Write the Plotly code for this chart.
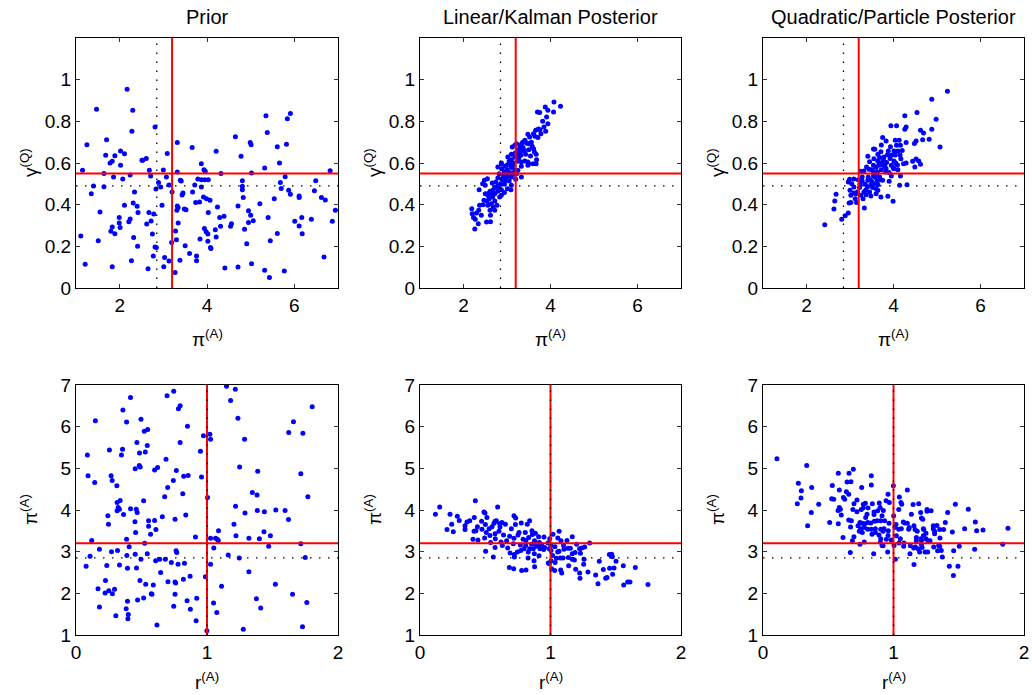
import plotly.graph_objects as go

# ---------------- data ----------------
TITLES = ["Prior", "Linear/Kalman Posterior", "Quadratic/Particle Posterior"]
PI_TRUE, GAMMA_TRUE, R_TRUE = 3.2, 0.55, 1.0
PI_PRIOR_MEAN, GAMMA_PRIOR_MEAN, R_PRIOR_MEAN = 2.85, 0.49, 1.0

TOP_X_RANGE, TOP_Y_RANGE = [1, 7], [0, 1.2]
BOT_X_RANGE, BOT_Y_RANGE = [0, 2], [1, 7]
TOP_X_TICKS = [2, 4, 6]
TOP_Y_TICKS = [0, 0.2, 0.4, 0.6, 0.8, 1.0]
TOP_Y_TICKTEXT = ["0", "0.2", "0.4", "0.6", "0.8", "1"]
BOT_X_TICKS = [0, 1, 2]
BOT_Y_TICKS = [1, 2, 3, 4, 5, 6, 7]

# (pi, gamma) prior samples
prior_pi_gamma = [
(2.17,0.954),(1.47,0.858),(2.30,0.853),(1.25,0.688),(2.28,0.752),(1.70,0.712),(2.81,0.773),(1.68,0.637),
(1.89,0.635),(2.02,0.658),(2.11,0.645),(1.78,0.600),(1.83,0.608),(2.02,0.589),(2.51,0.613),(2.53,0.613),
(2.61,0.622),(3.09,0.646),(1.15,0.565),(1.64,0.550),(1.86,0.533),(2.07,0.523),(2.24,0.542),(2.68,0.565),
(2.71,0.538),(3.00,0.566),(3.07,0.533),(2.89,0.507),(2.94,0.485),(3.13,0.494),(2.83,0.475),(1.40,0.490),
(1.64,0.486),(1.35,0.453),(2.34,0.461),(2.11,0.397),(2.31,0.408),(2.40,0.392),(2.42,0.363),(1.55,0.365),
(1.99,0.339),(2.24,0.331),(2.21,0.318),(1.99,0.312),(2.01,0.290),(1.83,0.293),(1.80,0.272),(1.89,0.261),
(2.67,0.362),(2.78,0.355),(2.97,0.397),(2.72,0.322),(2.62,0.307),(2.75,0.259),(1.11,0.250),(1.51,0.227),
(2.32,0.242),(2.41,0.200),(2.81,0.197),(2.84,0.195),(1.21,0.114),(1.83,0.102),(2.27,0.131),(2.65,0.093),
(2.77,0.154),(3.03,0.147),(3.01,0.102),(3.13,0.130),(3.19,0.218),(3.28,0.274),(3.30,0.232),(3.34,0.312),
(3.27,0.075),(3.38,0.133),(3.32,0.699),(3.32,0.557),(3.39,0.517),(3.41,0.514),(3.20,0.461),(3.45,0.456),
(3.43,0.446),(3.32,0.394),(3.34,0.387),(3.31,0.373),(3.48,0.379),(3.52,0.376),(3.66,0.675),(3.72,0.494),
(3.67,0.461),(3.74,0.411),(3.83,0.413),(3.50,0.203),(3.60,0.166),(3.76,0.154),(3.76,0.131),(3.84,0.235),
(3.79,0.523),(3.87,0.597),(3.93,0.568),(3.96,0.560),(3.87,0.520),(3.95,0.520),(4.03,0.520),(3.87,0.485),
(3.92,0.437),(3.99,0.429),(4.07,0.421),(4.03,0.363),(3.94,0.286),(3.98,0.270),(4.02,0.259),(4.02,0.224),
(4.08,0.195),(4.09,0.190),(4.21,0.656),(4.32,0.550),(4.24,0.389),(4.29,0.339),(4.39,0.344),(4.31,0.296),
(4.19,0.280),(4.21,0.245),(4.41,0.096),(4.65,0.726),(4.78,0.632),(4.71,0.394),(4.56,0.309),(4.54,0.296),
(4.86,0.282),(4.91,0.213),(4.71,0.101),(4.99,0.699),(5.01,0.688),(5.02,0.552),(4.81,0.515),(4.81,0.488),
(4.81,0.472),(4.83,0.434),(4.95,0.371),(5.00,0.349),(5.06,0.323),(4.95,0.315),(5.02,0.117),(5.21,0.405),
(5.32,0.576),(5.35,0.827),(5.38,0.747),(5.40,0.338),(5.45,0.227),(5.32,0.085),(5.43,0.050),(5.54,0.429),
(5.61,0.678),(5.66,0.600),(5.68,0.507),(5.70,0.478),(5.61,0.262),(5.77,0.082),(5.79,0.534),(5.82,0.690),
(5.84,0.813),(5.91,0.838),(5.87,0.469),(5.91,0.450),(6.01,0.320),(6.11,0.442),(6.11,0.435),(6.11,0.298),
(6.17,0.338),(6.18,0.261),(6.39,0.330),(6.46,0.467),(6.49,0.515),(6.62,0.435),(6.71,0.422),(6.68,0.149),
(6.82,0.563),(6.87,0.320),(6.94,0.373),
]

# (pi, gamma) linear/Kalman posterior samples
kalman_pi_gamma = [
(4.08,0.893),(4.23,0.872),(3.88,0.869),(3.94,0.853),(4.07,0.845),(3.70,0.845),(3.75,0.842),(3.91,0.821),
(3.82,0.800),(3.94,0.789),(3.85,0.773),(3.72,0.763),(3.76,0.760),(3.66,0.757),(3.89,0.752),(3.61,0.741),
(3.48,0.738),(3.78,0.741),(3.52,0.725),(3.71,0.722),(3.64,0.728),(3.41,0.709),(3.45,0.696),(3.33,0.690),
(3.49,0.693),(3.22,0.693),(3.18,0.685),(3.12,0.677),(3.30,0.677),(3.37,0.674),(3.61,0.669),(3.26,0.664),
(3.50,0.664),(3.35,0.658),(3.63,0.653),(3.19,0.648),(3.10,0.642),(3.43,0.642),(3.32,0.637),(3.54,0.634),
(3.67,0.642),(3.18,0.629),(3.02,0.629),(3.27,0.624),(3.10,0.616),(3.68,0.616),(3.41,0.610),(3.24,0.608),
(2.87,0.600),(3.05,0.597),(3.50,0.597),(3.60,0.597),(3.67,0.597),(3.14,0.589),(3.33,0.584),(3.48,0.589),
(2.96,0.584),(3.10,0.578),(2.88,0.573),(3.00,0.568),(3.18,0.568),(3.25,0.565),(2.94,0.557),(3.04,0.557),
(3.11,0.552),(2.82,0.549),(3.18,0.546),(2.92,0.538),(3.02,0.536),(3.10,0.533),(3.33,0.533),(2.79,0.528),
(2.88,0.525),(2.48,0.517),(2.55,0.525),(3.20,0.522),(2.96,0.514),(3.05,0.514),(2.74,0.509),(2.44,0.501),
(2.85,0.501),(2.50,0.493),(2.94,0.498),(3.10,0.493),(2.78,0.488),(2.72,0.482),(2.83,0.478),(3.01,0.477),
(2.36,0.472),(2.87,0.472),(3.09,0.472),(2.61,0.464),(2.79,0.464),(2.94,0.458),(2.50,0.453),(2.64,0.450),
(2.72,0.453),(2.56,0.445),(2.87,0.445),(2.67,0.437),(2.83,0.437),(2.59,0.429),(2.47,0.421),(2.54,0.418),
(2.72,0.418),(2.64,0.405),(2.56,0.397),(2.77,0.397),(2.37,0.397),(2.68,0.389),(2.61,0.373),(2.72,0.373),
(2.19,0.381),(2.35,0.373),(2.20,0.357),(2.41,0.349),(2.62,0.349),(2.23,0.338),(2.27,0.330),(2.53,0.317),
(2.62,0.318),(2.34,0.309),(2.26,0.283),(2.79,0.581),(2.87,0.597),(3.33,0.605),(3.48,0.605),(3.22,0.549),
(3.05,0.608),(3.22,0.637),(2.98,0.533),(2.66,0.504),(3.56,0.700),(3.40,0.660),(3.58,0.680),(2.90,0.520),
(2.68,0.470),(3.15,0.600),(3.28,0.650),(3.36,0.700),(3.00,0.590),(2.58,0.455),(2.45,0.400),(2.30,0.360),
]

# (pi, gamma) quadratic/particle posterior samples
particle_pi_gamma = [
(5.24,0.944),(4.88,0.906),(4.54,0.842),(4.98,0.810),(4.26,0.827),(3.94,0.779),(4.07,0.779),(4.29,0.773),
(4.26,0.762),(4.62,0.757),(4.69,0.744),(4.88,0.762),(3.75,0.723),(3.83,0.706),(4.04,0.709),(4.13,0.709),
(4.29,0.699),(4.52,0.706),(4.67,0.712),(4.82,0.714),(4.48,0.694),(3.72,0.686),(3.93,0.678),(4.07,0.685),
(4.16,0.685),(3.54,0.667),(3.57,0.666),(5.07,0.677),(3.71,0.654),(3.88,0.658),(4.01,0.658),(4.10,0.658),
(3.41,0.632),(3.64,0.642),(3.95,0.637),(4.04,0.638),(4.15,0.638),(3.55,0.621),(3.68,0.626),(3.78,0.629),
(3.92,0.622),(4.17,0.621),(4.52,0.619),(4.58,0.610),(3.45,0.606),(3.64,0.610),(4.01,0.610),(4.44,0.608),
(3.84,0.602),(4.29,0.600),(4.23,0.597),(3.54,0.589),(3.66,0.589),(3.75,0.592),(3.95,0.589),(4.09,0.590),
(4.49,0.581),(4.62,0.594),(3.38,0.581),(3.60,0.578),(3.99,0.578),(4.01,0.573),(3.50,0.568),(3.72,0.568),
(4.10,0.568),(3.83,0.573),(3.24,0.560),(3.32,0.562),(3.54,0.557),(3.63,0.557),(3.90,0.555),(3.60,0.546),
(3.95,0.538),(4.16,0.538),(3.09,0.523),(3.28,0.533),(3.42,0.533),(3.54,0.539),(3.68,0.533),(2.99,0.522),
(3.19,0.520),(3.28,0.514),(3.41,0.517),(3.51,0.509),(3.63,0.514),(3.75,0.517),(3.90,0.512),(2.96,0.509),
(3.04,0.501),(3.23,0.498),(3.35,0.498),(3.48,0.496),(3.55,0.501),(3.64,0.496),(4.14,0.493),(4.31,0.496),
(3.09,0.485),(3.22,0.482),(3.40,0.485),(3.52,0.482),(3.60,0.477),(3.00,0.469),(3.17,0.461),(3.32,0.461),
(3.45,0.461),(3.64,0.469),(2.68,0.450),(3.02,0.445),(3.14,0.453),(3.25,0.445),(3.37,0.448),(3.48,0.442),
(3.60,0.453),(3.71,0.437),(3.87,0.440),(3.12,0.429),(3.30,0.429),(3.99,0.416),(2.65,0.418),(2.98,0.408),
(3.02,0.411),(3.15,0.410),(2.63,0.379),(3.33,0.384),(2.96,0.360),(2.89,0.347),(2.81,0.330),(2.42,0.304),
(3.77,0.613),(3.09,0.456),(3.82,0.557),(3.70,0.600),(3.86,0.640),(4.05,0.600),(3.47,0.520),(3.58,0.530),
(3.80,0.585),(3.36,0.470),(4.20,0.660),(3.70,0.520),(3.44,0.570),
]

# (r, pi) prior samples
prior_r_pi = [
(1.149,6.97),(1.216,6.90),(0.746,6.85),(0.695,6.74),(0.416,6.70),(1.803,6.48),(0.795,6.50),(0.782,6.43),
(1.180,6.63),(0.358,6.40),(1.236,6.20),(1.660,6.12),(0.148,6.14),(0.386,6.11),(0.496,6.18),(0.851,6.01),
(0.521,5.89),(0.547,5.93),(1.624,5.86),(1.732,5.84),(0.973,5.78),(1.022,5.82),(1.027,5.70),(1.287,5.70),
(0.795,5.62),(0.465,5.62),(0.544,5.55),(0.355,5.46),(0.255,5.44),(0.347,5.32),(0.485,5.37),(0.529,5.39),
(0.087,5.32),(0.950,5.41),(0.687,5.22),(0.483,5.07),(0.490,5.03),(0.452,4.99),(0.600,4.96),(0.623,5.02),
(1.249,5.03),(1.387,4.93),(0.766,4.95),(0.822,4.81),(0.856,4.83),(0.958,4.79),(0.092,4.82),(0.268,4.82),
(0.276,4.71),(0.143,4.66),(0.312,4.58),(0.743,4.71),(0.700,4.54),(1.716,4.87),(1.004,4.30),(0.815,4.39),
(0.677,4.32),(1.346,4.42),(1.382,4.36),(1.770,4.32),(0.337,4.23),(0.314,4.18),(0.516,4.22),(0.322,4.06),
(0.314,3.98),(0.332,4.02),(0.416,4.03),(0.460,4.02),(0.467,3.94),(0.363,3.89),(0.243,3.86),(1.218,4.09),
(1.290,3.93),(1.384,3.99),(1.438,3.96),(1.525,4.00),(1.596,3.99),(1.622,3.77),(0.248,3.66),(0.450,3.72),
(0.554,3.74),(0.600,3.75),(0.659,3.84),(0.756,3.78),(0.838,3.88),(0.554,3.61),(0.610,3.53),(0.569,3.42),
(0.455,3.46),(1.206,3.66),(1.088,3.50),(1.435,3.48),(1.221,3.38),(1.484,3.38),(0.386,3.30),(0.120,3.27),
(0.912,3.35),(1.027,3.32),(1.065,3.32),(1.078,3.30),(1.086,3.27),(1.320,3.32),(1.400,3.31),(0.524,3.20),
(0.406,3.12),(0.179,3.06),(0.271,3.00),(0.317,3.03),(0.544,2.95),(0.764,3.02),(0.769,2.98),(1.052,3.09),
(1.471,3.13),(1.716,3.19),(0.107,2.89),(0.388,2.91),(0.452,2.94),(0.496,2.82),(0.608,2.78),(0.639,2.82),
(0.682,2.82),(0.728,2.74),(0.779,2.70),(0.828,2.72),(1.162,2.92),(1.246,2.85),(1.750,2.86),(0.077,2.65),
(0.235,2.67),(0.332,2.68),(0.393,2.60),(0.462,2.61),(0.646,2.50),(1.027,2.70),(1.320,2.52),(0.871,2.41),
(0.820,2.34),(0.988,2.40),(0.225,2.31),(0.488,2.31),(0.532,2.22),(0.590,2.20),(0.702,2.28),(0.756,2.27),
(0.761,2.25),(1.111,2.17),(1.522,2.22),(0.168,2.11),(0.250,2.06),(0.294,2.10),(0.222,2.01),(0.278,1.99),
(0.575,1.99),(0.580,1.98),(0.756,1.98),(1.377,1.87),(1.653,1.98),(0.179,1.67),(0.393,1.81),(0.470,1.84),
(0.516,1.89),(0.746,1.69),(0.848,1.82),(0.873,1.62),(0.922,1.88),(1.050,1.77),(1.075,1.54),(1.410,1.65),
(1.762,1.78),(0.304,1.46),(0.399,1.49),(0.396,1.39),(0.383,1.63),(0.618,1.24),(0.917,1.34),(0.999,1.10),
(1.277,1.14),(1.729,1.20),
]

# (r, pi) linear/Kalman posterior samples
kalman_r_pi = [
(0.424,4.22),(0.151,4.07),(0.595,4.07),(0.118,3.90),(0.230,3.90),(0.286,3.85),(0.301,3.75),(0.243,3.66),
(0.207,3.53),(0.255,3.48),(0.345,3.53),(0.345,3.62),(0.360,3.71),(0.381,3.74),(0.416,3.82),(0.490,3.95),
(0.498,3.93),(0.513,3.82),(0.472,3.73),(0.501,3.65),(0.475,3.54),(0.414,3.49),(0.429,3.50),(0.406,3.30),
(0.444,3.28),(0.495,3.33),(0.508,3.46),(0.536,3.39),(0.552,3.60),(0.575,3.73),(0.567,3.68),(0.585,3.74),
(0.610,3.67),(0.628,3.70),(0.613,3.59),(0.654,3.66),(0.605,3.49),(0.575,3.43),(0.577,3.31),(0.575,3.10),
(0.541,3.22),(0.503,3.01),(0.562,2.87),(0.664,3.26),(0.687,3.37),(0.672,3.09),(0.720,3.86),(0.733,3.81),
(0.731,3.65),(0.776,3.69),(0.840,3.74),(0.822,3.66),(0.759,3.46),(0.751,3.40),(0.720,3.32),(0.807,3.46),
(0.833,3.34),(0.812,3.27),(0.858,3.50),(0.884,3.44),(0.861,3.41),(0.909,3.36),(0.878,3.26),(0.914,3.22),
(0.856,3.18),(0.810,3.15),(0.769,3.16),(0.715,3.19),(0.690,2.97),(0.723,2.93),(0.723,2.87),(0.746,2.99),
(0.772,3.03),(0.797,3.07),(0.830,2.99),(0.828,2.85),(0.840,3.07),(0.868,3.07),(0.876,2.95),(0.894,3.13),
(0.927,3.13),(0.948,3.05),(0.932,3.17),(0.955,3.10),(0.981,3.21),(0.991,3.07),(0.994,3.31),(1.019,3.42),
(1.066,3.49),(1.056,3.33),(1.080,3.26),(1.126,3.27),(1.167,3.36),(1.300,3.21),(1.262,3.11),(1.239,3.09),
(1.223,3.07),(1.152,3.08),(1.134,3.08),(1.103,3.06),(1.065,3.01),(1.034,3.12),(1.055,2.99),(1.004,3.03),
(1.004,3.14),(1.016,2.91),(1.004,2.78),(1.045,2.84),(1.075,2.85),(1.096,2.85),(1.137,2.86),(1.167,2.95),
(1.188,2.98),(1.229,2.96),(1.167,2.82),(1.183,2.80),(1.257,2.82),(1.139,2.66),(1.193,2.58),(1.254,2.70),
(1.035,2.74),(0.991,2.71),(1.009,2.59),(1.032,2.55),(1.078,2.56),(1.086,2.49),(1.223,2.49),(1.226,2.36),
(1.287,2.51),(1.346,2.44),(1.364,2.23),(1.374,2.77),(1.405,2.57),(1.423,2.36),(1.433,2.38),(1.453,2.60),
(1.451,2.93),(1.469,2.94),(1.474,2.88),(1.502,2.77),(1.487,2.61),(1.476,2.46),(1.558,2.66),(1.561,2.20),
(1.591,2.27),(1.609,2.27),(1.650,2.62),(1.747,2.21),(0.779,2.55),(0.812,2.56),(0.718,2.59),(0.685,2.62),
(0.878,2.64),(0.874,2.78),(0.912,2.90),(0.920,3.07),(0.890,3.15),(0.983,2.73),(0.621,3.23),(0.631,3.15),
(0.440,3.60),(0.530,3.55),(0.640,3.40),(0.700,3.55),(0.790,3.30),(0.950,3.35),(1.100,3.15),(1.200,3.18),
]

# (r, pi) quadratic/particle posterior samples
particle_r_pi = [
(0.107,5.23),(0.335,5.07),(0.271,4.64),(0.294,4.46),(0.291,4.29),(0.263,4.15),(0.373,4.54),(0.427,4.14),
(0.370,3.94),(0.342,3.62),(0.511,3.70),(0.531,4.59),(0.577,4.88),(0.659,4.88),(0.692,4.98),(0.644,4.67),
(0.674,4.68),(0.585,4.48),(0.639,4.44),(0.657,4.38),(0.526,4.27),(0.542,4.26),(0.616,4.30),(0.626,4.26),
(0.585,4.06),(0.593,4.02),(0.575,3.99),(0.600,3.88),(0.577,3.67),(0.657,3.76),(0.677,3.74),(0.671,3.59),
(0.613,3.34),(0.697,3.36),(0.685,3.26),(0.669,2.98),(0.756,4.54),(0.830,4.82),(0.830,4.60),(0.697,4.15),
(0.720,4.24),(0.689,4.01),(0.720,3.96),(0.753,4.01),(0.769,4.14),(0.784,4.16),(0.769,4.05),(0.805,4.05),
(0.838,4.15),(0.797,3.90),(0.787,3.82),(0.851,3.95),(0.851,3.89),(0.879,3.98),(0.891,4.17),(0.897,4.06),
(0.922,3.99),(0.912,3.86),(0.853,3.73),(0.825,3.69),(0.802,3.70),(0.743,3.70),(0.759,3.68),(0.779,3.67),
(0.728,3.62),(0.748,3.55),(0.776,3.58),(0.802,3.54),(0.738,3.49),(0.761,3.46),(0.830,3.54),(0.861,3.55),
(0.874,3.74),(0.902,3.74),(0.932,3.74),(0.902,3.54),(0.927,3.55),(0.835,3.42),(0.861,3.46),(0.889,3.40),
(0.920,3.49),(0.960,3.50),(0.958,3.39),(0.902,3.31),(0.945,3.30),(0.966,3.68),(0.943,4.22),(0.958,4.38),
(0.968,4.18),(0.999,4.58),(1.001,3.86),(0.983,3.28),(1.004,3.15),(0.955,2.99),(0.920,3.14),(0.899,3.23),
(0.912,3.15),(0.848,2.95),(0.776,3.23),(0.743,3.18),(1.019,3.65),(1.011,3.58),(1.022,3.38),(1.040,3.54),
(1.060,3.55),(1.052,3.31),(1.042,3.21),(1.014,2.82),(1.045,4.31),(1.057,4.18),(1.063,4.14),(1.040,4.01),
(1.106,4.48),(1.075,3.71),(1.086,3.69),(1.106,3.68),(1.121,3.58),(1.116,3.54),(1.137,3.90),(1.150,4.13),
(1.193,4.15),(1.157,3.62),(1.165,3.53),(1.182,3.49),(1.175,3.34),(1.175,3.26),(1.080,3.21),(1.078,3.13),
(1.129,3.14),(1.155,3.09),(1.168,3.11),(1.188,3.07),(1.200,2.99),(1.126,2.95),(1.157,2.69),(1.208,3.94),
(1.214,3.81),(1.224,3.78),(1.257,4.01),(1.257,3.97),(1.288,3.98),(1.229,3.55),(1.232,3.53),(1.229,3.38),
(1.211,3.31),(1.214,3.17),(1.219,3.10),(1.214,3.27),(1.249,3.44),(1.249,3.31),(1.264,3.26),(1.280,3.26),
(1.262,2.99),(1.242,2.99),(1.305,3.62),(1.305,3.55),(1.333,3.63),(1.315,3.49),(1.315,3.43),(1.354,3.53),
(1.308,3.11),(1.346,3.15),(1.338,3.02),(1.356,3.33),(1.354,3.13),(1.366,3.03),(1.384,3.53),(1.397,3.70),
(1.415,3.94),(1.374,2.87),(1.451,3.47),(1.461,3.02),(1.474,4.14),(1.428,2.65),(1.459,2.43),(1.494,2.65),
(1.504,3.13),(1.545,3.55),(1.573,4.02),(1.622,3.06),(1.627,3.71),(1.637,3.50),(1.686,3.52),(1.837,3.18),
(1.877,3.56),
]

TOP_SETS = [prior_pi_gamma, kalman_pi_gamma, particle_pi_gamma]
BOT_SETS = [prior_r_pi, kalman_r_pi, particle_r_pi]

# ---------------- layout ----------------
W, H = 1032, 695
COL_PX = [(76, 338), (420, 681), (763, 1024)]   # window pixels
ROW_PX = [(38, 288), (385, 635)]
FONT = "Liberation Sans, Arial, Helvetica, sans-serif"
BLUE = "#0000ff"
RED = "#ff0000"
DOT = "1.5px,7.5px"
TICK_SIZE = 19
TITLE_SIZE = 20
LABEL_SIZE = 19


def px_x(p):
    return p / W


def px_y(p):
    return 1 - p / H


fig = go.Figure()

for r in range(2):
    for c in range(3):
        idx = r * 3 + c + 1
        an = "" if idx == 1 else str(idx)
        data = TOP_SETS[c] if r == 0 else BOT_SETS[c]
        xs = [p[0] for p in data]
        ys = [p[1] for p in data]
        xref, yref = "x" + an, "y" + an
        fig.add_trace(go.Scatter(
            x=xs, y=ys, mode="markers", xaxis=xref, yaxis=yref,
            marker=dict(color=BLUE, size=5, line=dict(width=0)),
            showlegend=False, hoverinfo="skip"))
        x0, x1 = COL_PX[c]
        y0, y1 = ROW_PX[r]
        common = dict(showline=True, linecolor="black", linewidth=1, mirror="allticks",
                      ticks="inside", ticklen=4, tickcolor="#333333", tickwidth=1,
                      showgrid=False, zeroline=False, automargin=False,
                      tickfont=dict(family=FONT, size=TICK_SIZE, color="black"))
        if r == 0:
            xa = dict(range=TOP_X_RANGE, tickvals=TOP_X_TICKS, **common)
            ya = dict(range=TOP_Y_RANGE, tickvals=TOP_Y_TICKS, ticktext=TOP_Y_TICKTEXT, **common)
        else:
            xa = dict(range=BOT_X_RANGE, tickvals=BOT_X_TICKS, **common)
            ya = dict(range=BOT_Y_RANGE, tickvals=BOT_Y_TICKS, **common)
        xa.update(domain=[px_x(x0), px_x(x1)], anchor=yref)
        ya.update(domain=[px_y(y1), px_y(y0)], anchor=xref)
        fig.update_layout({"xaxis" + an: xa, "yaxis" + an: ya})

        # reference lines: true values (red) and prior means (dotted)
        if r == 0:
            vtrue, htrue, vprior, hprior = PI_TRUE, GAMMA_TRUE, PI_PRIOR_MEAN, GAMMA_PRIOR_MEAN
            xr, yr = TOP_X_RANGE, TOP_Y_RANGE
        else:
            vtrue, htrue, vprior, hprior = R_TRUE, PI_TRUE, R_PRIOR_MEAN, PI_PRIOR_MEAN
            xr, yr = BOT_X_RANGE, BOT_Y_RANGE
        for (vx, col, dash, wd) in [(vtrue, RED, "solid", 2), (vprior, "black", DOT, 1.3)]:
            fig.add_shape(type="line", xref=xref, yref=yref, x0=vx, x1=vx, y0=yr[0], y1=yr[1],
                          line=dict(color=col, width=wd, dash=dash), layer="above")
        for (hy, col, dash, wd) in [(htrue, RED, "solid", 2), (hprior, "black", DOT, 1.3)]:
            fig.add_shape(type="line", xref=xref, yref=yref, x0=xr[0], x1=xr[1], y0=hy, y1=hy,
                          line=dict(color=col, width=wd, dash=dash), layer="above")

        # labels
        cx = px_x((x0 + x1) / 2)
        if r == 0:
            fig.add_annotation(text=TITLES[c], x=cx, y=px_y(17), xref="paper", yref="paper",
                               xanchor="center", yanchor="middle",
                               showarrow=False, font=dict(family=FONT, size=TITLE_SIZE, color="black"))
            xl, yl = "π<sup>(A)</sup>", "γ<sup>(Q)</sup>"
            xly = 338
        else:
            xl, yl = "r<sup>(A)</sup>", "π<sup>(A)</sup>"
            xly = 681
        fig.add_annotation(text=xl, x=cx, y=px_y(xly), xref="paper", yref="paper",
                           xanchor="center", yanchor="middle",
                           showarrow=False, font=dict(family=FONT, size=LABEL_SIZE, color="black"))
        fig.add_annotation(text=yl, x=px_x(x0 - 47), y=px_y((y0 + y1) / 2),
                           xref="paper", yref="paper", textangle=-90,
                           xanchor="center", yanchor="middle",
                           showarrow=False, font=dict(family=FONT, size=LABEL_SIZE, color="black"))

fig.update_layout(width=W, height=H, margin=dict(l=0, r=0, t=0, b=0),
                  paper_bgcolor="white", plot_bgcolor="white",
                  font=dict(family=FONT, size=16, color="black"))
fig.write_html("out.html")
